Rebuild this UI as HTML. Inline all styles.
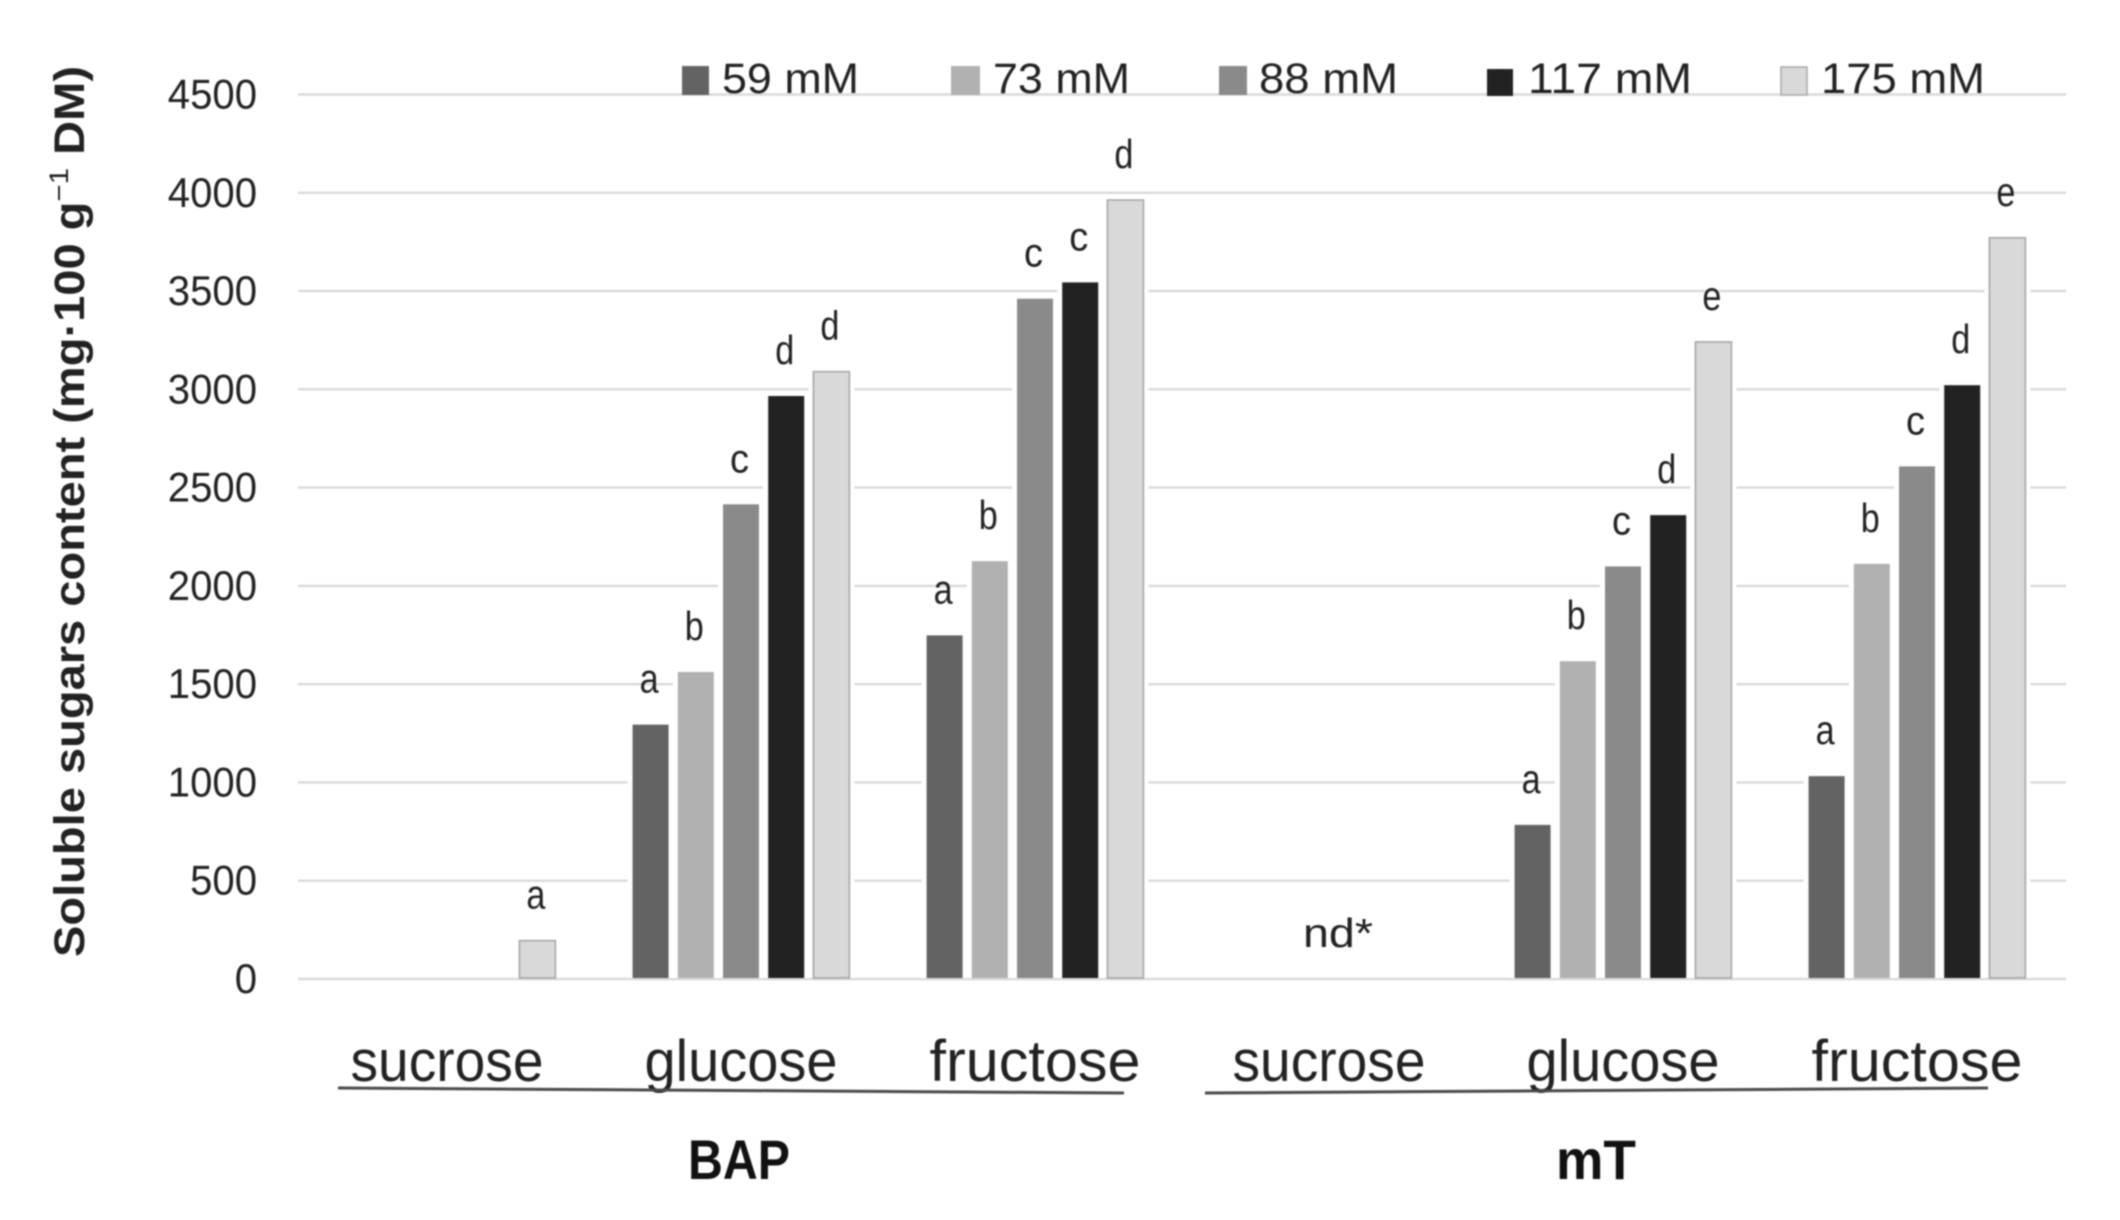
<!DOCTYPE html>
<html lang="en">
<head>
<meta charset="utf-8">
<title>Soluble sugars content</title>
<style>
html,body{margin:0;padding:0;background:#fff;width:2120px;height:1220px;overflow:hidden}
svg{display:block;filter:blur(0.7px)}
text{font-family:"Liberation Sans",sans-serif;fill:#222}
</style>
</head>
<body>
<svg id="chart" width="2120" height="1220" viewBox="0 0 2120 1220" xmlns="http://www.w3.org/2000/svg">
  <rect x="0" y="0" width="2120" height="1220" fill="#ffffff"/>
  <g id="grid"></g>
  <g id="ticks"></g>
  <g id="bars"></g>
  <g id="letters"></g>
  <g id="cats"></g>

  <g>
    <g>
      <rect x="682" y="66" width="27" height="29" fill="#636363"/>
      <text x="722" y="93" font-size="43" textLength="137" lengthAdjust="spacingAndGlyphs">59 mM</text>
    </g>
    <g>
      <rect x="951" y="66" width="29" height="29" fill="#b1b1b1"/>
      <text x="993" y="93" font-size="43" textLength="137" lengthAdjust="spacingAndGlyphs">73 mM</text>
    </g>
    <g>
      <rect x="1219" y="66" width="28" height="29" fill="#8a8a8a"/>
      <text x="1259" y="93" font-size="43" textLength="139" lengthAdjust="spacingAndGlyphs">88 mM</text>
    </g>
    <g>
      <rect x="1487" y="69" width="26" height="27" fill="#222222"/>
      <text x="1528" y="93" font-size="43" textLength="164" lengthAdjust="spacingAndGlyphs">117 mM</text>
    </g>
    <g>
      <rect x="1781" y="67" width="26" height="28" fill="#d9d9d9" stroke="#a8a8a8" stroke-width="1.5"/>
      <text x="1821" y="93" font-size="43" textLength="164" lengthAdjust="spacingAndGlyphs">175 mM</text>
    </g>
  </g>

  <text transform="translate(84,957) rotate(-90)" font-size="43" font-weight="bold" textLength="891" lengthAdjust="spacingAndGlyphs">Soluble sugars content (mg·100 g<tspan font-size="27" dy="-16" font-weight="normal">−1</tspan><tspan dy="16"> DM)</tspan></text>

  <line x1="338" y1="1088" x2="1124" y2="1093" stroke="#4a4a4a" stroke-width="3"/>
  <line x1="1205" y1="1093" x2="1988" y2="1088" stroke="#4a4a4a" stroke-width="3"/>
  <text x="688" y="1179" font-size="56" font-weight="bold" textLength="102" lengthAdjust="spacingAndGlyphs" style="fill:#111">BAP</text>
  <text x="1556" y="1179" font-size="56" font-weight="bold" textLength="80" lengthAdjust="spacingAndGlyphs" style="fill:#111">mT</text>
  <text x="1303" y="947" font-size="41" textLength="70" lengthAdjust="spacingAndGlyphs">nd*</text>
</svg>

<script>
var categories = ['sucrose', 'glucose', 'fructose', 'sucrose', 'glucose', 'fructose'];
var seriesNames = ['59 mM', '73 mM', '88 mM', '117 mM', '175 mM'];
var yTicks = [0, 500, 1000, 1500, 2000, 2500, 3000, 3500, 4000, 4500];

var values59 = [null, 1294, 1748, null, 784, 1032];
var values73 = [null, 1562, 2126, null, 1617, 2112];
var values88 = [null, 2415, 3461, null, 2099, 2608];
var values117 = [null, 2966, 3544, null, 2360, 3021];
var values175 = [195, 3090, 3963, null, 3241, 3771];

var letters59 = ['', 'a', 'a', '', 'a', 'a'];
var letters73 = ['', 'b', 'b', '', 'b', 'b'];
var letters88 = ['', 'c', 'c', '', 'c', 'c'];
var letters117 = ['', 'd', 'c', '', 'd', 'd'];
var letters175 = ['a', 'd', 'd', '', 'e', 'e'];

var allValues = [values59, values73, values88, values117, values175];
var allLetters = [letters59, letters73, letters88, letters117, letters175];
var fills = ['#636363', '#b1b1b1', '#8a8a8a', '#222222', '#d9d9d9'];

var NS = 'http://www.w3.org/2000/svg';
function make(tag, parent) {
  var el = document.createElementNS(NS, tag);
  parent.appendChild(el);
  return el;
}
function yScale(v) { return 979 - v * (884.5 / 4500); }
function bandCenter(c) { return 300 + 294 * (c + 0.5); }
function xScale(c, s) { return bandCenter(c) + (s - 2) * 45.2; }

var gridG = document.getElementById('grid');
var ticksG = document.getElementById('ticks');
var barsG = document.getElementById('bars');
var lettersG = document.getElementById('letters');
var catsG = document.getElementById('cats');

yTicks.forEach(function (t) {
  var line = make('line', gridG);
  
  
  line.setAttribute('x1', 298);
  line.setAttribute('x2', 2066);
  line.setAttribute('y1', yScale(t));
  line.setAttribute('y2', yScale(t));
  line.setAttribute('stroke', '#d9d9d9');
  line.setAttribute('stroke-width', '2.4');

  var label = make('text', ticksG);
  
  
  label.setAttribute('x', 257);
  label.setAttribute('y', yScale(t) + 14);
  label.setAttribute('text-anchor', 'end');
  label.setAttribute('font-size', '42');
  label.setAttribute('textLength', String(t).length * 22.3);
  label.setAttribute('lengthAdjust', 'spacingAndGlyphs');
  label.textContent = t;
});

categories.forEach(function (name, c) {
  var label = make('text', catsG);
  
  
  label.setAttribute('x', bandCenter(c));
  label.setAttribute('y', 1081);
  label.setAttribute('text-anchor', 'middle');
  label.setAttribute('font-size', '58');
  label.setAttribute('textLength', name === 'fructose' ? 211 : 193);
  label.setAttribute('lengthAdjust', 'spacingAndGlyphs');
  label.textContent = name;
});

var barWidth = 36;
allValues.forEach(function (series, s) {
  series.forEach(function (v, c) {
    if (v === null) return;
    var halo = make('rect', barsG);
    
    
    halo.setAttribute('x', xScale(c, s) - barWidth / 2 - 5);
    halo.setAttribute('y', yScale(v));
    halo.setAttribute('width', barWidth + 10);
    halo.setAttribute('height', yScale(0) - yScale(v) - 1);
    halo.setAttribute('fill', '#ffffff');
  });
});
allValues.forEach(function (series, s) {
  series.forEach(function (v, c) {
    if (v === null) return;
    var bar = make('rect', barsG);
    
    
    bar.setAttribute('x', xScale(c, s) - barWidth / 2);
    bar.setAttribute('y', yScale(v));
    bar.setAttribute('width', barWidth);
    bar.setAttribute('height', yScale(0) - yScale(v) - 1);
    bar.setAttribute('fill', fills[s]);
    if (s === 4) {
      bar.setAttribute('stroke', '#a6a6a6');
      bar.setAttribute('stroke-width', '1.6');
    }
    var title = make('title', bar);
    title.textContent = categories[c] + ' ' + seriesNames[s] + ': ' + v;

    var letter = allLetters[s][c];
    if (letter) {
      var mark = make('text', lettersG);
      
      
      mark.setAttribute('x', xScale(c, s) - 1.5);
      mark.setAttribute('y', yScale(v) - 32);
      mark.setAttribute('text-anchor', 'middle');
      mark.setAttribute('font-size', '41');
      mark.setAttribute('textLength', '19');
      mark.setAttribute('lengthAdjust', 'spacingAndGlyphs');
      mark.textContent = letter;
    }
  });
});
</script>
</body>
</html>
